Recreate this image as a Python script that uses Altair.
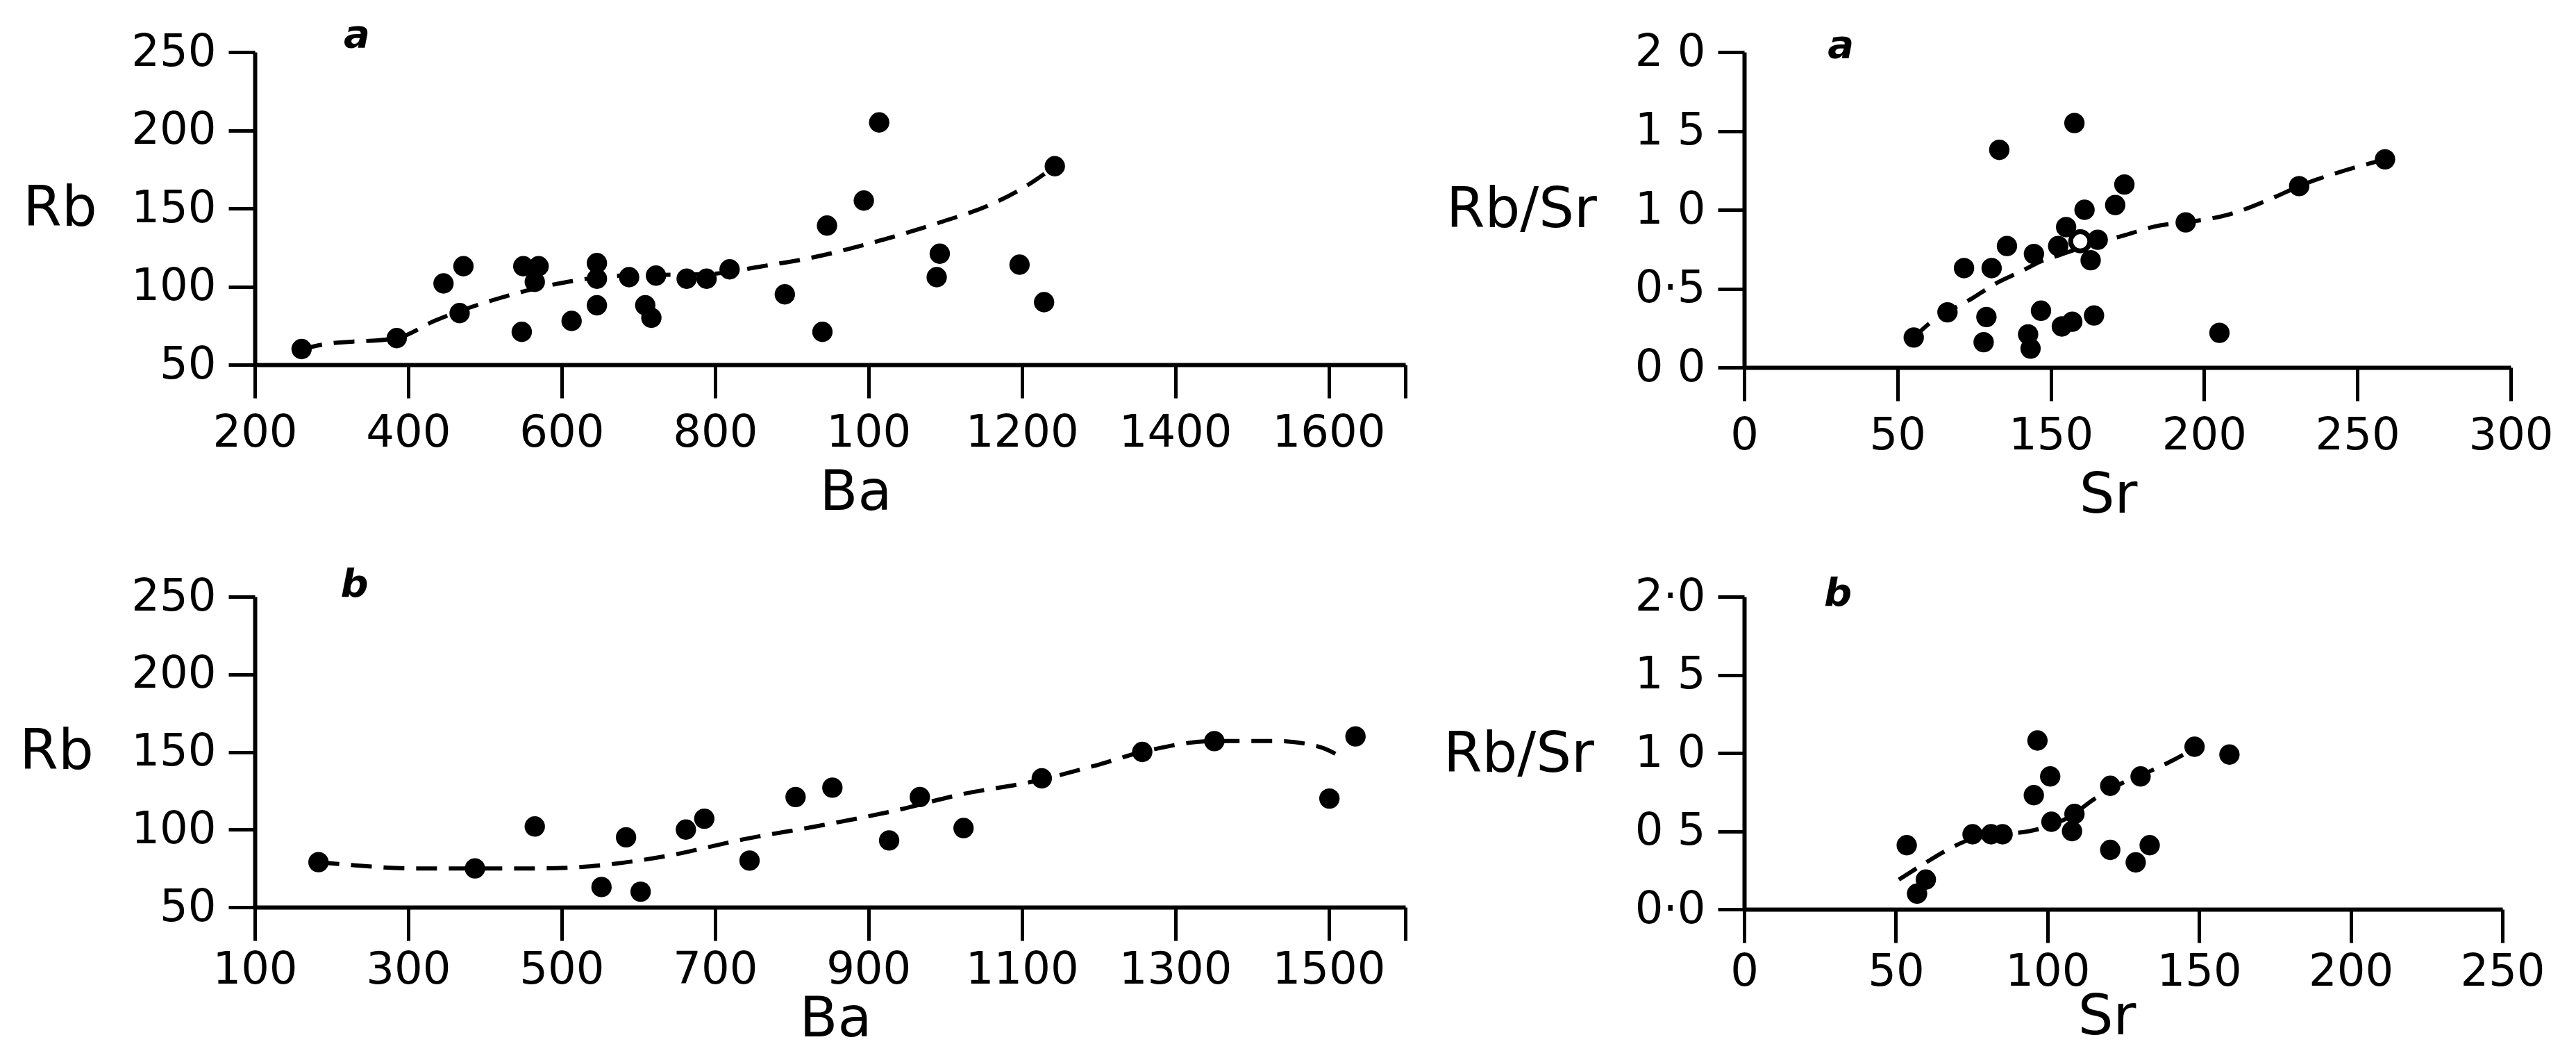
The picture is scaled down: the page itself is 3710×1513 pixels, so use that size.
import altair as alt
import pandas as pd

FONT = "DejaVu Sans"

# ---------------- Panel a (top-left): Rb vs Ba ----------------
tl_ba = [261, 385, 446, 472, 467, 548, 550, 570, 565, 613, 646, 646, 646, 688, 723,
         709, 717, 763, 789, 819, 891, 940, 946, 994, 1014, 1093, 1089, 1197, 1229, 1243]
tl_rb = [60, 67, 102, 113, 83, 71, 113, 113, 103, 78, 115, 105, 88, 106, 107,
         88, 80, 105, 105, 111, 95, 71, 139, 155, 205, 121, 106, 114, 90, 177]
tl_trend_ba = [261, 290, 385, 434, 515, 608, 677, 792, 862, 931, 1012, 1093, 1162, 1208, 1243]
tl_trend_rb = [60, 63, 67, 78, 92, 103, 107, 108, 113, 119, 129, 141, 153, 165, 177]
tl_x_ticks = [200, 400, 600, 800, 1000, 1200, 1400, 1600, 1700]
tl_x_labels = ["200", "400", "600", "800", "100", "1200", "1400", "1600", ""]

# ---------------- Panel b (bottom-left): Rb vs Ba ----------------
bl_ba = [183, 387, 465, 552, 584, 603, 662, 686, 745, 805, 853, 927, 967, 1024,
         1126, 1257, 1351, 1501, 1535]
bl_rb = [79, 75, 102, 63, 95, 60, 100, 107, 80, 121, 127, 93, 121, 101,
         133, 150, 157, 120, 160]
bl_trend_ba = [183, 206, 308, 387, 478, 569, 637, 740, 842, 933, 1024, 1115, 1194,
               1257, 1351, 1433, 1490, 1515]
bl_trend_rb = [79, 78, 75, 75, 75, 78, 83, 94, 103, 112, 123, 131, 141, 150, 157, 157, 153, 147]
bl_x_ticks = [100, 300, 500, 700, 900, 1100, 1300, 1500, 1600]
bl_x_labels = ["100", "300", "500", "700", "900", "1100", "1300", "1500", ""]

rb_y_ticks = [50, 100, 150, 200, 250]
rb_y_labels = ["50", "100", "150", "200", "250"]

# ---------------- Panel a (top-right): Rb/Sr vs Sr ----------------
tr_sr = [55.3, 66.3, 71.7, 80.7, 79.0, 78.1, 83.2, 85.7, 94.5, 96.8, 92.6, 93.4, 102.4,
         103.6, 107.0, 105.0, 107.7, 111.0, 115.3, 113.0, 114.1, 121.0, 124.0, 144.0,
         155.0, 181.0, 209.0]
tr_ratio = [0.19, 0.35, 0.63, 0.63, 0.32, 0.16, 1.38, 0.77, 0.72, 0.36, 0.21, 0.12, 0.77,
            0.26, 0.29, 0.89, 1.55, 1.00, 0.81, 0.68, 0.33, 1.03, 1.16, 0.92,
            0.22, 1.15, 1.32]
tr_open_sr = [109.6]
tr_open_ratio = [0.80]
tr_trend_sr = [55.3, 59.8, 74.5, 82.8, 90.4, 96.4, 102.4, 110, 117, 124.3, 135.3, 144,
               158, 173, 181, 196, 209]
tr_trend_ratio = [0.19, 0.27, 0.44, 0.54, 0.61, 0.67, 0.71, 0.76, 0.80, 0.84, 0.90, 0.92,
                  0.97, 1.08, 1.15, 1.25, 1.32]
tr_x_ticks = [0, 50, 100, 150, 200, 250]
tr_x_labels = ["0", "50", "150", "200", "250", "300"]
tr_y_ticks = [0, 0.5, 1.0, 1.5, 2.0]
tr_y_labels = ["0 0", "0·5", "1 0", "1 5", "2 0"]

# ---------------- Panel b (bottom-right): Rb/Sr vs Sr ----------------
br_sr = [53.6, 59.9, 57.0, 75.3, 81.4, 85.2, 96.7, 100.9, 95.5, 101.3, 108.9, 108.1,
         120.7, 130.7, 120.7, 129.1, 133.7, 148.5, 160.0]
br_ratio = [0.41, 0.19, 0.10, 0.48, 0.48, 0.48, 1.08, 0.85, 0.73, 0.56, 0.61, 0.50,
            0.79, 0.85, 0.38, 0.30, 0.41, 1.04, 0.99]
br_trend_sr = [51, 60, 66, 75, 85, 94, 100, 108, 115, 120, 126, 131, 140, 148.5]
br_trend_ratio = [0.19, 0.30, 0.37, 0.45, 0.48, 0.50, 0.53, 0.60, 0.70, 0.76, 0.82,
                  0.86, 0.94, 1.03]
br_x_ticks = [0, 50, 100, 150, 200, 250]
br_x_labels = ["0", "50", "100", "150", "200", "250"]
br_y_ticks = [0, 0.5, 1.0, 1.5, 2.0]
br_y_labels = ["0·0", "0 5", "1 0", "1 5", "2·0"]


def lab_expr(vals, labs):
    s = "''"
    for v, l in reversed(list(zip(vals, labs))):
        s = f"abs(datum.value - {v}) < 0.000001 ? '{l}' : ({s})"
    return s


def panel(px, py, tx, ty, letter, lx, ly, xdom, ydom, xt, xl, yt, yl,
          width, height, xtitle, ytitle, xtx, xty, ytx, yty, xpad,
          ox=None, oy=None):
    xaxis = alt.Axis(values=xt, labelExpr=lab_expr(xt, xl), title=xtitle,
                     titleX=xtx, titleY=xty, titleAngle=0, titleAlign="center",
                     titleBaseline="middle", tickSize=48, labelPadding=xpad,
                     labelAngle=0, labelAlign="center", labelBaseline="top",
                     labelFlush=False, labelOverlap=False, labelBound=False)
    yaxis = alt.Axis(values=yt, labelExpr=lab_expr(yt, yl), title=ytitle,
                     titleX=ytx, titleY=yty, titleAngle=0, titleAlign="center",
                     titleBaseline="middle", tickSize=38, labelPadding=18,
                     labelAlign="right", labelBaseline="middle",
                     labelFlush=False, labelOverlap=False, labelBound=False)
    xs = alt.Scale(domain=xdom, nice=False, zero=False)
    ys = alt.Scale(domain=ydom, nice=False, zero=False)

    pts = pd.DataFrame({"x": px, "y": py})
    trend = pd.DataFrame({"x": tx, "y": ty})
    lab = pd.DataFrame({"x": [lx], "y": [ly], "t": [letter]})

    line = alt.Chart(trend).mark_line(
        color="black", strokeWidth=6, strokeDash=[30, 17], interpolate="monotone",
        clip=False
    ).encode(x=alt.X("x:Q", scale=xs, axis=xaxis), y=alt.Y("y:Q", scale=ys, axis=yaxis))
    dots = alt.Chart(pts).mark_circle(
        color="black", opacity=1, size=860, clip=False
    ).encode(x="x:Q", y="y:Q")
    layers = [line, dots]
    if ox is not None:
        op = pd.DataFrame({"x": ox, "y": oy})
        layers.append(alt.Chart(op).mark_point(
            shape="circle", filled=True, fill="white", stroke="black", strokeWidth=7,
            size=760, opacity=1, clip=False).encode(x="x:Q", y="y:Q"))
    txt = alt.Chart(lab).mark_text(
        font=FONT, fontSize=56, fontWeight="bold", fontStyle="italic",
        color="black", align="center", baseline="middle", clip=False
    ).encode(x="x:Q", y="y:Q", text="t:N")
    layers.append(txt)
    return alt.layer(*layers).properties(width=width, height=height)


tl = panel(tl_ba, tl_rb, tl_trend_ba, tl_trend_rb, "a", 333, 260.7,
           [200, 1700], [50, 250], tl_x_ticks, tl_x_labels, rb_y_ticks, rb_y_labels,
           1657, 450, "Ba", "Rb", 865, 184, -281, 225, 18)
tr = panel(tr_sr, tr_ratio, tr_trend_sr, tr_trend_ratio, "a", 31.5, 2.04,
           [0, 250], [0, 2], tr_x_ticks, tr_x_labels, tr_y_ticks, tr_y_labels,
           1104, 454, "Sr", "Rb/Sr", 524, 184, -321, 227, 18,
           ox=tr_open_sr, oy=tr_open_ratio)
bl = panel(bl_ba, bl_rb, bl_trend_ba, bl_trend_rb, "b", 230, 257.6,
           [100, 1600], [50, 250], bl_x_ticks, bl_x_labels, rb_y_ticks, rb_y_labels,
           1657, 447, "Ba", "Rb", 836, 161, -286, 223, 10)
br = panel(br_sr, br_ratio, br_trend_sr, br_trend_ratio, "b", 30.9, 2.018,
           [0, 250], [0, 2], br_x_ticks, br_x_labels, br_y_ticks, br_y_labels,
           1092, 450, "Sr", "Rb/Sr", 522, 155, -325, 227, 10)

chart = alt.concat(
    tl, tr, bl, br, columns=2, spacing={"row": 330, "column": 488}, bounds="flush"
).properties(
    padding={"left": 19, "top": 14, "right": 5, "bottom": 5},
    background="white",
).configure_view(stroke=None).configure_axis(
    domainColor="black", domainWidth=6, tickColor="black", tickWidth=5,
    labelFont=FONT, labelFontSize=64, labelColor="black",
    titleFont=FONT, titleFontSize=80, titleFontWeight="normal", titleColor="black",
    grid=False,
)

chart.save("out.html", embed_options={"renderer": "svg", "actions": False})
